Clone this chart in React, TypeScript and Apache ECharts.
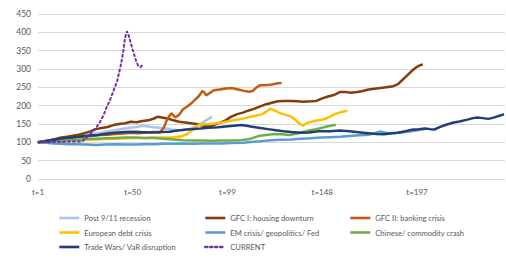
import React, { useEffect, useRef } from "react";
import * as echarts from "echarts";

// [period index (t-1), index value]
const postSept11: number[][] = [
  [0, 100], [3, 102], [6, 104], [9, 106], [12, 109], [15, 111], [18, 114], [21, 117], [24, 119], [27, 122],
  [30, 125], [33, 127], [36, 130], [39, 132], [42, 135], [45, 138], [48, 140], [51, 142], [54, 145], [57, 143],
  [60, 141], [63, 140], [66, 138], [69, 135], [72, 133], [75, 132], [78, 136], [81, 142], [84, 150], [87, 160], [90, 170],
];
const gfcHousing: number[][] = [
  [0, 100], [3, 103], [6, 106], [9, 109], [12, 113], [15, 115], [18, 118], [21, 121], [24, 125], [27, 130],
  [30, 136], [33, 139], [36, 142], [39, 147], [42, 150], [45, 152], [48, 156], [51, 155], [54, 158], [57, 160],
  [60, 165], [62, 170], [64, 168], [67, 165], [70, 160], [73, 156], [76, 154], [79, 152], [82, 150], [85, 146],
  [88, 143], [91, 148], [94, 153], [97, 160], [100, 170], [103, 177], [106, 181], [109, 187], [112, 192], [115, 198],
  [118, 204], [121, 208], [124, 212], [127, 213], [131, 213], [134, 212], [137, 211], [141, 212], [144, 213], [147, 220],
  [150, 225], [153, 229], [156, 237], [159, 237], [162, 235], [165, 237], [168, 240], [171, 244], [174, 246], [177, 248],
  [180, 250], [183, 252], [186, 258], [188, 268], [190, 278], [192, 288], [194, 298], [196, 306], [198, 311], [199, 312],
];
const gfcBanking: number[][] = [
  [0, 100], [4, 103], [8, 106], [12, 109], [16, 112], [20, 114], [24, 116], [28, 118], [32, 120], [36, 121],
  [40, 123], [44, 124], [48, 126], [52, 125], [56, 127], [60, 128], [63, 126], [65, 140], [67, 165], [69, 179],
  [71, 168], [73, 175], [75, 190], [77, 197], [79, 205], [81, 215], [83, 225], [85, 240], [86, 236], [87, 228],
  [89, 235], [91, 242], [94, 244], [97, 247], [100, 248], [103, 245], [106, 241], [109, 238], [111, 240], [113, 250],
  [115, 256], [118, 256], [121, 258], [124, 261], [126, 262],
];
const euroDebt: number[][] = [
  [0, 100], [5, 102], [10, 104], [15, 105], [20, 106], [25, 107], [30, 108], [35, 109], [40, 110], [45, 111],
  [50, 112], [55, 112], [60, 113], [65, 113], [70, 114], [74, 116], [77, 122], [79, 130], [81, 140], [83, 147],
  [86, 149], [89, 150], [92, 152], [95, 154], [98, 157], [101, 160], [104, 163], [107, 166], [110, 170], [113, 173],
  [116, 177], [118, 183], [120, 192], [122, 188], [125, 180], [128, 175], [131, 170], [133, 162], [135, 152], [137, 145],
  [139, 153], [142, 157], [145, 160], [148, 163], [151, 170], [154, 178], [157, 183], [160, 186],
];
const emCrisis: number[][] = [
  [0, 100], [4, 99], [8, 97], [12, 96], [16, 95], [20, 95], [25, 94], [30, 93], [35, 94], [40, 95],
  [45, 94], [50, 94], [55, 95], [60, 95], [65, 96], [70, 96], [75, 97], [80, 96], [85, 97], [90, 97],
  [95, 97], [100, 98], [106, 99], [110, 101], [115, 103], [119, 105], [125, 107], [131, 108], [136, 110], [141, 111],
  [146, 113], [151, 114], [156, 115], [161, 117], [166, 119], [171, 121], [174, 124], [177, 130], [179, 127], [182, 125],
  [186, 126], [190, 128], [193, 130], [196, 133], [200, 136],
];
const chinaCrash: number[][] = [
  [0, 100], [5, 102], [10, 104], [15, 106], [20, 107], [25, 109], [30, 110], [35, 111], [40, 112], [45, 113],
  [50, 113], [55, 112], [60, 112], [65, 110], [70, 108], [75, 106], [80, 105], [85, 105], [90, 104], [95, 105],
  [100, 105], [105, 106], [110, 110], [114, 117], [118, 120], [122, 123], [126, 122], [130, 120], [134, 124], [137, 128],
  [140, 132], [144, 136], [147, 140], [150, 144], [154, 148],
];
const tradeWars: number[][] = [
  [0, 100], [3, 102], [6, 105], [9, 108], [13, 111], [17, 113], [22, 116], [26, 118], [31, 120], [36, 124],
  [41, 127], [45, 128], [49, 129], [53, 128], [58, 127], [63, 128], [68, 129], [72, 132], [75, 134], [79, 136],
  [84, 138], [88, 140], [93, 141], [97, 143], [101, 145], [105, 147], [108, 145], [110, 143], [114, 140], [119, 136],
  [123, 133], [127, 130], [131, 128], [136, 126], [140, 127], [145, 130], [151, 130], [156, 132], [161, 130], [167, 127],
  [171, 125], [175, 123], [179, 122], [182, 124], [186, 126], [190, 130], [193, 134], [197, 136], [200, 138], [203, 136],
  [205, 135], [208, 142], [211, 148], [215, 154], [218, 157], [222, 162], [225, 166], [227, 168], [230, 166], [233, 164],
  [236, 168], [239, 173], [241, 177],
];
const current: number[][] = [
  [0, 100], [4, 100], [8, 101], [12, 101], [16, 102], [20, 102], [23, 103], [25, 112], [27, 122], [28, 128],
  [30, 140], [32, 155], [34, 175], [35, 190], [37, 212], [39, 240], [41, 268], [43, 315], [44, 345], [45, 385],
  [46, 403], [47, 390], [48, 370], [49, 352], [50, 335], [51, 318], [52, 308], [53, 305], [54, 311],
];

const seriesNames = [
  "Post 9/11 recession",
  "GFC I: housing downturn",
  "GFC II: banking crisis",
  "European debt crisis",
  "EM crisis/ geopolitics/ Fed",
  "Chinese/ commodity crash",
  "Trade Wars/ VaR disruption",
  "CURRENT",
];
const seriesData = [postSept11, gfcHousing, gfcBanking, euroDebt, emCrisis, chinaCrash, tradeWars, current];
const seriesColors = ["#A9C5EA", "#843C0C", "#C55A11", "#FFC000", "#5B9BD5", "#70AD47", "#213F73", "#7030A0"];

const yMin = 0;
const yMax = 450;
const yStep = 50;
const xStep = 49;
const xMax = 241.5;

const FONT = "Lato, 'Liberation Sans', sans-serif";
const TEXT_COLOR = "#595959";

export default function App() {
  const ref = useRef<HTMLDivElement>(null);
  useEffect(() => {
    if (!ref.current) return;
    const chart = echarts.init(ref.current, undefined, { renderer: "svg" });
    const legendText = { color: TEXT_COLOR, fontSize: 7.6, fontFamily: FONT };
    const legendBase = {
      orient: "vertical" as const,
      top: 214,
      itemWidth: 20,
      itemHeight: 10,
      itemGap: 6.5,
      padding: 0,
      textStyle: legendText,
      itemStyle: { opacity: 0 },
      lineStyle: { width: 2.6 },
    };
    chart.setOption({
      animation: false,
      backgroundColor: "#ffffff",
      grid: { left: 38, right: 1, top: 14, bottom: 79 },
      xAxis: {
        type: "value",
        min: 0,
        max: xMax,
        interval: xStep,
        axisLine: { show: false },
        axisTick: { show: false },
        splitLine: { show: false },
        axisLabel: {
          color: TEXT_COLOR,
          fontSize: 8,
          fontFamily: FONT,
          margin: 9,
          showMaxLabel: false,
          formatter: (v: number) => `t=${Math.round(v) + 1}`,
        },
      },
      yAxis: {
        type: "value",
        min: yMin,
        max: yMax,
        interval: yStep,
        axisLine: { show: false },
        axisTick: { show: false },
        splitLine: { lineStyle: { color: "#D9D9D9", width: 1 } },
        axisLabel: { color: TEXT_COLOR, fontSize: 8.5, fontFamily: FONT, margin: 7 },
      },
      legend: [
        { ...legendBase, left: 58, data: [seriesNames[0], seriesNames[3], seriesNames[6]] },
        { ...legendBase, left: 204, data: [seriesNames[1], seriesNames[4], seriesNames[7]] },
        { ...legendBase, left: 349, data: [seriesNames[2], seriesNames[5]] },
      ],
      series: seriesNames.map((name, k) => ({
        name,
        type: "line",
        data: seriesData[k],
        symbol: "none",
        showSymbol: false,
        color: seriesColors[k],
        lineStyle: {
          color: seriesColors[k],
          width: k === 7 ? 2 : 2.5,
          type: k === 7 ? [2, 3] : "solid",
          cap: k === 7 ? "round" : "butt",
        },
        z: 2 + k,
      })),
    });
    return () => chart.dispose();
  }, []);
  return (
    <div
      ref={ref}
      style={{ position: "fixed", left: 0, top: 0, width: 506, height: 258, background: "#fff" }}
    />
  );
}
